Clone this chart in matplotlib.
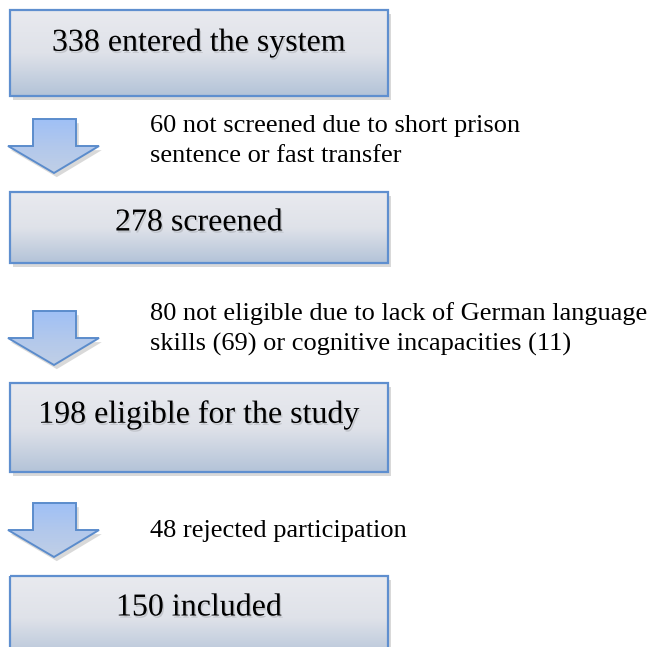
import matplotlib.pyplot as plt
import matplotlib.patheffects as pe
from matplotlib.patches import Rectangle, Polygon
from matplotlib.colors import LinearSegmentedColormap
import numpy as np

# flow stages and the exclusion notes between them
stages = ['338 entered the system', '278 screened',
          '198 eligible for the study', '150 included']
notes = ['60 not screened due to short prison\nsentence or fast transfer',
         '80 not eligible due to lack of German language\nskills (69) or cognitive incapacities (11)',
         '48 rejected participation']

# layout in pixels (y downwards)
box_x0, box_x1 = 10, 388
box_y = [(10, 96), (192, 263), (383, 472), (576, 660)]
text_y = [43, 223, 415, 608]
arrow_top = [119, 311, 503]
note_y = [141, 329, 531]

plt.rcParams['font.family'] = ['Liberation Serif', 'DejaVu Serif']

fig = plt.figure(figsize=(6.54, 6.47), dpi=100)
ax = fig.add_axes([0, 0, 1, 1])
ax.set_xlim(0, 654)
ax.set_ylim(647, 0)
ax.axis('off')

box_cmap = LinearSegmentedColormap.from_list('box', ['#e9eaef', '#dfe2e9', '#b3c3d8'])
arrow_cmap = LinearSegmentedColormap.from_list('arr', ['#9fc0f6', '#b2c8ec', '#c0cfe6'])
grad = np.linspace(0, 1, 256).reshape(-1, 1)

shadow = [pe.withSimplePatchShadow(offset=(2, -3), shadow_rgbFace='#000000', alpha=0.15)]
txt_shadow = [pe.withSimplePatchShadow(offset=(1, -1.5), shadow_rgbFace='#000000', alpha=0.12)]

for (y0, y1), label, ty in zip(box_y, stages, text_y):
    rect = Rectangle((box_x0, y0), box_x1 - box_x0, y1 - y0,
                     facecolor='none', edgecolor='#5f8fcf', lw=1.6, zorder=3)
    bg = Rectangle((box_x0, y0), box_x1 - box_x0, y1 - y0, facecolor='white',
                   edgecolor='none', zorder=1, path_effects=shadow)
    ax.add_patch(bg)
    ax.add_patch(rect)
    im = ax.imshow(grad, cmap=box_cmap, aspect='auto',
                   extent=(box_x0, box_x1, y1, y0), zorder=2)
    im.set_clip_path(rect)
    ax.text((box_x0 + box_x1) / 2, ty, label, ha='center', va='center',
            fontsize=23, color='black', zorder=4, path_effects=txt_shadow)

for top in arrow_top:
    pts = [(33, top), (76, top), (76, top + 27), (99, top + 27),
           (54, top + 54), (8, top + 27), (33, top + 27)]
    arr = Polygon(pts, closed=True, facecolor='none', edgecolor='#5b8ccc',
                  lw=1.4, zorder=3, joinstyle='miter')
    bg = Polygon(pts, closed=True, facecolor='white', edgecolor='none',
                 zorder=1, path_effects=shadow)
    ax.add_patch(bg)
    ax.add_patch(arr)
    im = ax.imshow(grad, cmap=arrow_cmap, aspect='auto',
                   extent=(8, 99, top + 54, top), zorder=2)
    im.set_clip_path(arr)

for ny, note in zip(note_y, notes):
    ax.text(150, ny, note, ha='left', va='center', fontsize=19,
            color='black', linespacing=1.42)

fig.savefig('out.png', dpi=100)
